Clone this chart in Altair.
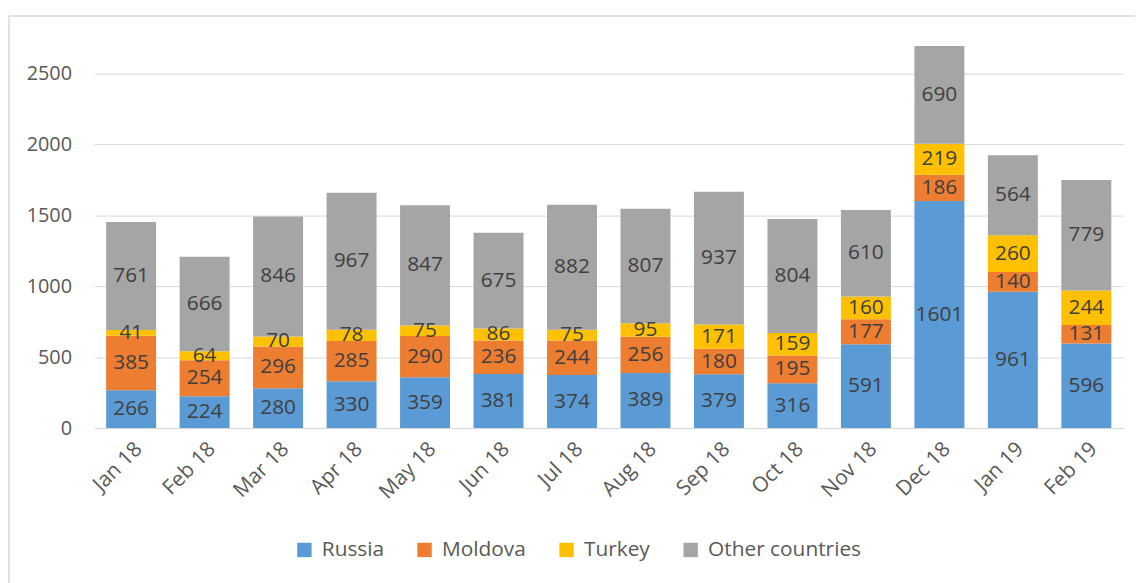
import altair as alt
import pandas as pd

months = ["Jan 18", "Feb 18", "Mar 18", "Apr 18", "May 18", "Jun 18", "Jul 18",
          "Aug 18", "Sep 18", "Oct 18", "Nov 18", "Dec 18", "Jan 19", "Feb 19"]
russia = [266, 224, 280, 330, 359, 381, 374, 389, 379, 316, 591, 1601, 961, 596]
moldova = [385, 254, 296, 285, 290, 236, 244, 256, 180, 195, 177, 186, 140, 131]
turkey = [41, 64, 70, 78, 75, 86, 75, 95, 171, 159, 160, 219, 260, 244]
other = [761, 666, 846, 967, 847, 675, 882, 807, 937, 804, 610, 690, 564, 779]

series = ["Russia", "Moldova", "Turkey", "Other countries"]
colors = ["#5B9BD5", "#ED7D31", "#FFC000", "#A5A5A5"]
values = [russia, moldova, turkey, other]

rows = []
for i, m in enumerate(months):
    base = 0
    for k, s in enumerate(series):
        v = values[k][i]
        rows.append({"month": m, "series": s, "order": k, "value": v,
                     "y0": base, "y1": base + v, "mid": base + v / 2})
        base += v
df = pd.DataFrame(rows)

FONT = "Open Sans"

x = alt.X("month:N", sort=months, title=None,
          scale=alt.Scale(paddingInner=0.32, paddingOuter=0.16),
          axis=alt.Axis(labelAngle=-45, labelFontSize=21, labelColor="#595959",
                        labelFont=FONT, domainColor="#d9d9d9", ticks=False,
                        labelPadding=10))

bars = alt.Chart(df).mark_bar().encode(
    x=x,
    y=alt.Y("y0:Q", title=None,
            scale=alt.Scale(domain=[0, 2900], nice=False),
            axis=alt.Axis(values=[0, 500, 1000, 1500, 2000, 2500], format="d",
                          labelFontSize=20, labelColor="#595959", labelFont=FONT,
                          domain=False, ticks=False, gridColor="#d9d9d9",
                          labelPadding=23)),
    y2="y1:Q",
    color=alt.Color("series:N", sort=series,
                    scale=alt.Scale(domain=series, range=colors),
                    legend=alt.Legend(title=None, orient="none", direction="horizontal",
                                      legendX=201, legendY=526, symbolType="square",
                                      symbolSize=210, symbolStrokeWidth=0,
                                      labelFontSize=21, labelFont=FONT, labelLimit=0,
                                      labelColor="#595959", columnPadding=30,
                                      symbolOffset=0, labelOffset=7)),
)

labels = alt.Chart(df).mark_text(fontSize=21, font=FONT, color="#404040",
                                 baseline="middle", align="center").encode(
    x=alt.X("month:N", sort=months),
    y=alt.Y("mid:Q"),
    text="value:Q",
)

frame_df = pd.DataFrame({"k": [0]})
frame_left = alt.Chart(frame_df).mark_rule(color="#d9d9d9", strokeWidth=1.5).encode(
    x=alt.value(-86), x2=alt.value(-86), y=alt.value(-1), y2=alt.value(570))
frame_top = alt.Chart(frame_df).mark_rule(color="#d9d9d9", strokeWidth=1.5).encode(
    x=alt.value(-86), x2=alt.value(1050), y=alt.value(-1), y2=alt.value(-1))

chart = alt.layer(bars, labels, frame_left, frame_top).properties(
    width=1036, height=414,
    autosize=alt.AutoSizeParams(type="none"),
    padding={"left": 87, "top": 7, "right": 12, "bottom": 154},
).configure(background="white").configure_view(stroke=None)

chart.save("out.html", embed_options={"renderer": "svg", "actions": False})
